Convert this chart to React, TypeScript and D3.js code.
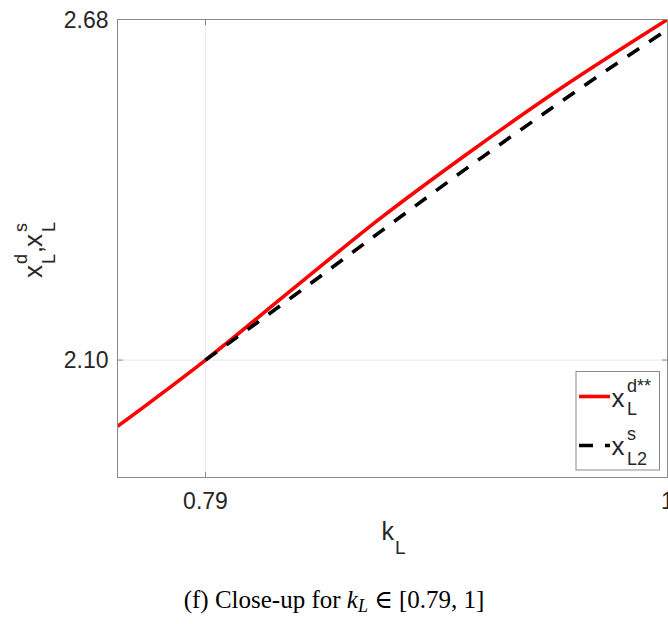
import React from "react";
import * as d3 from "d3";

const kRed = [0.75, 0.79, 0.83, 0.87, 0.91, 0.95, 1.0];
const xRed = [1.987, 2.1, 2.222, 2.343, 2.454, 2.559, 2.68];
const kBlack = [0.79, 0.83, 0.87, 0.91, 0.95, 1.0];
const xBlack = [2.1, 2.209, 2.32, 2.43, 2.536, 2.663];
const xTicks = [0.79, 1];
const yTicks = [2.1, 2.68];
const xTickLabels = ["0.79", "1"];
const yTickLabels = ["2.10", "2.68"];

const W = 668;
const H = 624;
const L = 117.5, R = 667.5, T = 19.5, B = 477.5;

export default function App() {
  const x = d3.scaleLinear().domain([0.75, 1]).range([L, R]);
  const y = d3.scaleLinear().domain([1.9, 2.68]).range([B, T]);
  const line = d3
    .line<[number, number]>()
    .x((d) => x(d[0]))
    .y((d) => y(d[1]))
    .curve(d3.curveMonotoneX);
  const redPts = kRed.map((k, i) => [k, xRed[i]] as [number, number]);
  const blackPts = kBlack.map((k, i) => [k, xBlack[i]] as [number, number]);
  const sans = "'Liberation Sans', Arial, Helvetica, sans-serif";
  const txt = "#262626";
  const axisCol = "#8a8a8a";
  const gridCol = "#e8e8e8";
  return (
    <svg
      width={W}
      height={H}
      style={{ position: "absolute", left: 0, top: 0, background: "#fff" }}
      fontFamily={sans}
    >
      <rect x={0} y={0} width={W} height={H} fill="#fff" />
      <defs>
        <clipPath id="plot">
          <rect x={L} y={T} width={R - L} height={B - T} />
        </clipPath>
      </defs>
      {xTicks.map((t) => (
        <line key={"gx" + t} x1={x(t)} x2={x(t)} y1={T} y2={B} stroke={gridCol} strokeWidth={1} />
      ))}
      {yTicks.map((t) => (
        <line key={"gy" + t} x1={L} x2={R} y1={y(t)} y2={y(t)} stroke={gridCol} strokeWidth={1} />
      ))}
      {xTicks.map((t) => (
        <g key={"tx" + t}>
          <line x1={x(t)} x2={x(t)} y1={B} y2={B - 5.5} stroke={axisCol} />
          <line x1={x(t)} x2={x(t)} y1={T} y2={T + 5.5} stroke={axisCol} />
        </g>
      ))}
      {yTicks.map((t) => (
        <g key={"ty" + t}>
          <line x1={L} x2={L + 5.5} y1={y(t)} y2={y(t)} stroke={axisCol} />
          <line x1={R} x2={R - 5.5} y1={y(t)} y2={y(t)} stroke={axisCol} />
        </g>
      ))}
      <g clipPath="url(#plot)">
        <path d={line(redPts) || ""} fill="none" stroke="#ff0000" strokeWidth={3.6} />
        <path
          d={line(blackPts) || ""}
          fill="none"
          stroke="#000"
          strokeWidth={3.6}
          strokeDasharray="14,12"
        />
      </g>
      <rect x={L} y={T} width={R - L} height={B - T} fill="none" stroke={axisCol} strokeWidth={1} />
      {xTicks.map((t, i) => (
        <text key={"lx" + t} x={x(t)} y={509} textAnchor="middle" fontSize={23} fill={txt}>
          {xTickLabels[i]}
        </text>
      ))}
      {yTicks.map((t, i) => (
        <text key={"ly" + t} x={108.5} y={y(t) + 8.3} textAnchor="end" fontSize={23} fill={txt}>
          {yTickLabels[i]}
        </text>
      ))}
      <text x={381.5} y={540} fontSize={25} fill={txt}>k</text>
      <text x={395} y={554} fontSize={19} fill={txt}>L</text>
      <g transform="translate(42,278) rotate(-90)" fill={txt}>
        <text x={0} y={0} fontSize={26}>x</text>
        <text x={14} y={-15} fontSize={18}>d</text>
        <text x={14} y={13} fontSize={18}>L</text>
        <text x={25} y={0} fontSize={25}>,</text>
        <text x={31} y={0} fontSize={26}>x</text>
        <text x={46} y={-15} fontSize={18}>s</text>
        <text x={46} y={13} fontSize={18}>L</text>
      </g>
      <rect x={576} y={371.5} width={83.5} height={98.5} fill="#fff" stroke={axisCol} strokeWidth={1} />
      <line x1={579} x2={610} y1={396.5} y2={396.5} stroke="#ff0000" strokeWidth={3.6} />
      <line x1={579} x2={610} y1={445.5} y2={445.5} stroke="#000" strokeWidth={3.6} strokeDasharray="14,12" />
      <g fill={txt}>
        <text x={611.5} y={407} fontSize={26}>x</text>
        <text x={627} y={391.5} fontSize={18}>d**</text>
        <text x={627} y={415} fontSize={18}>L</text>
        <text x={611.5} y={455} fontSize={26}>x</text>
        <text x={627} y={440} fontSize={18}>s</text>
        <text x={627} y={465} fontSize={18}>L2</text>
      </g>
      <text
        x={334}
        y={608}
        textAnchor="middle"
        fontFamily="'Liberation Serif', 'DejaVu Serif', serif"
        fontSize={25}
        fill="#000"
      >
        (f) Close-up for <tspan fontStyle="italic">k</tspan>
        <tspan fontStyle="italic" fontSize={18} dy={4}>L</tspan>
        <tspan dy={-4}> ∈ [0.79, 1]</tspan>
      </text>
    </svg>
  );
}
